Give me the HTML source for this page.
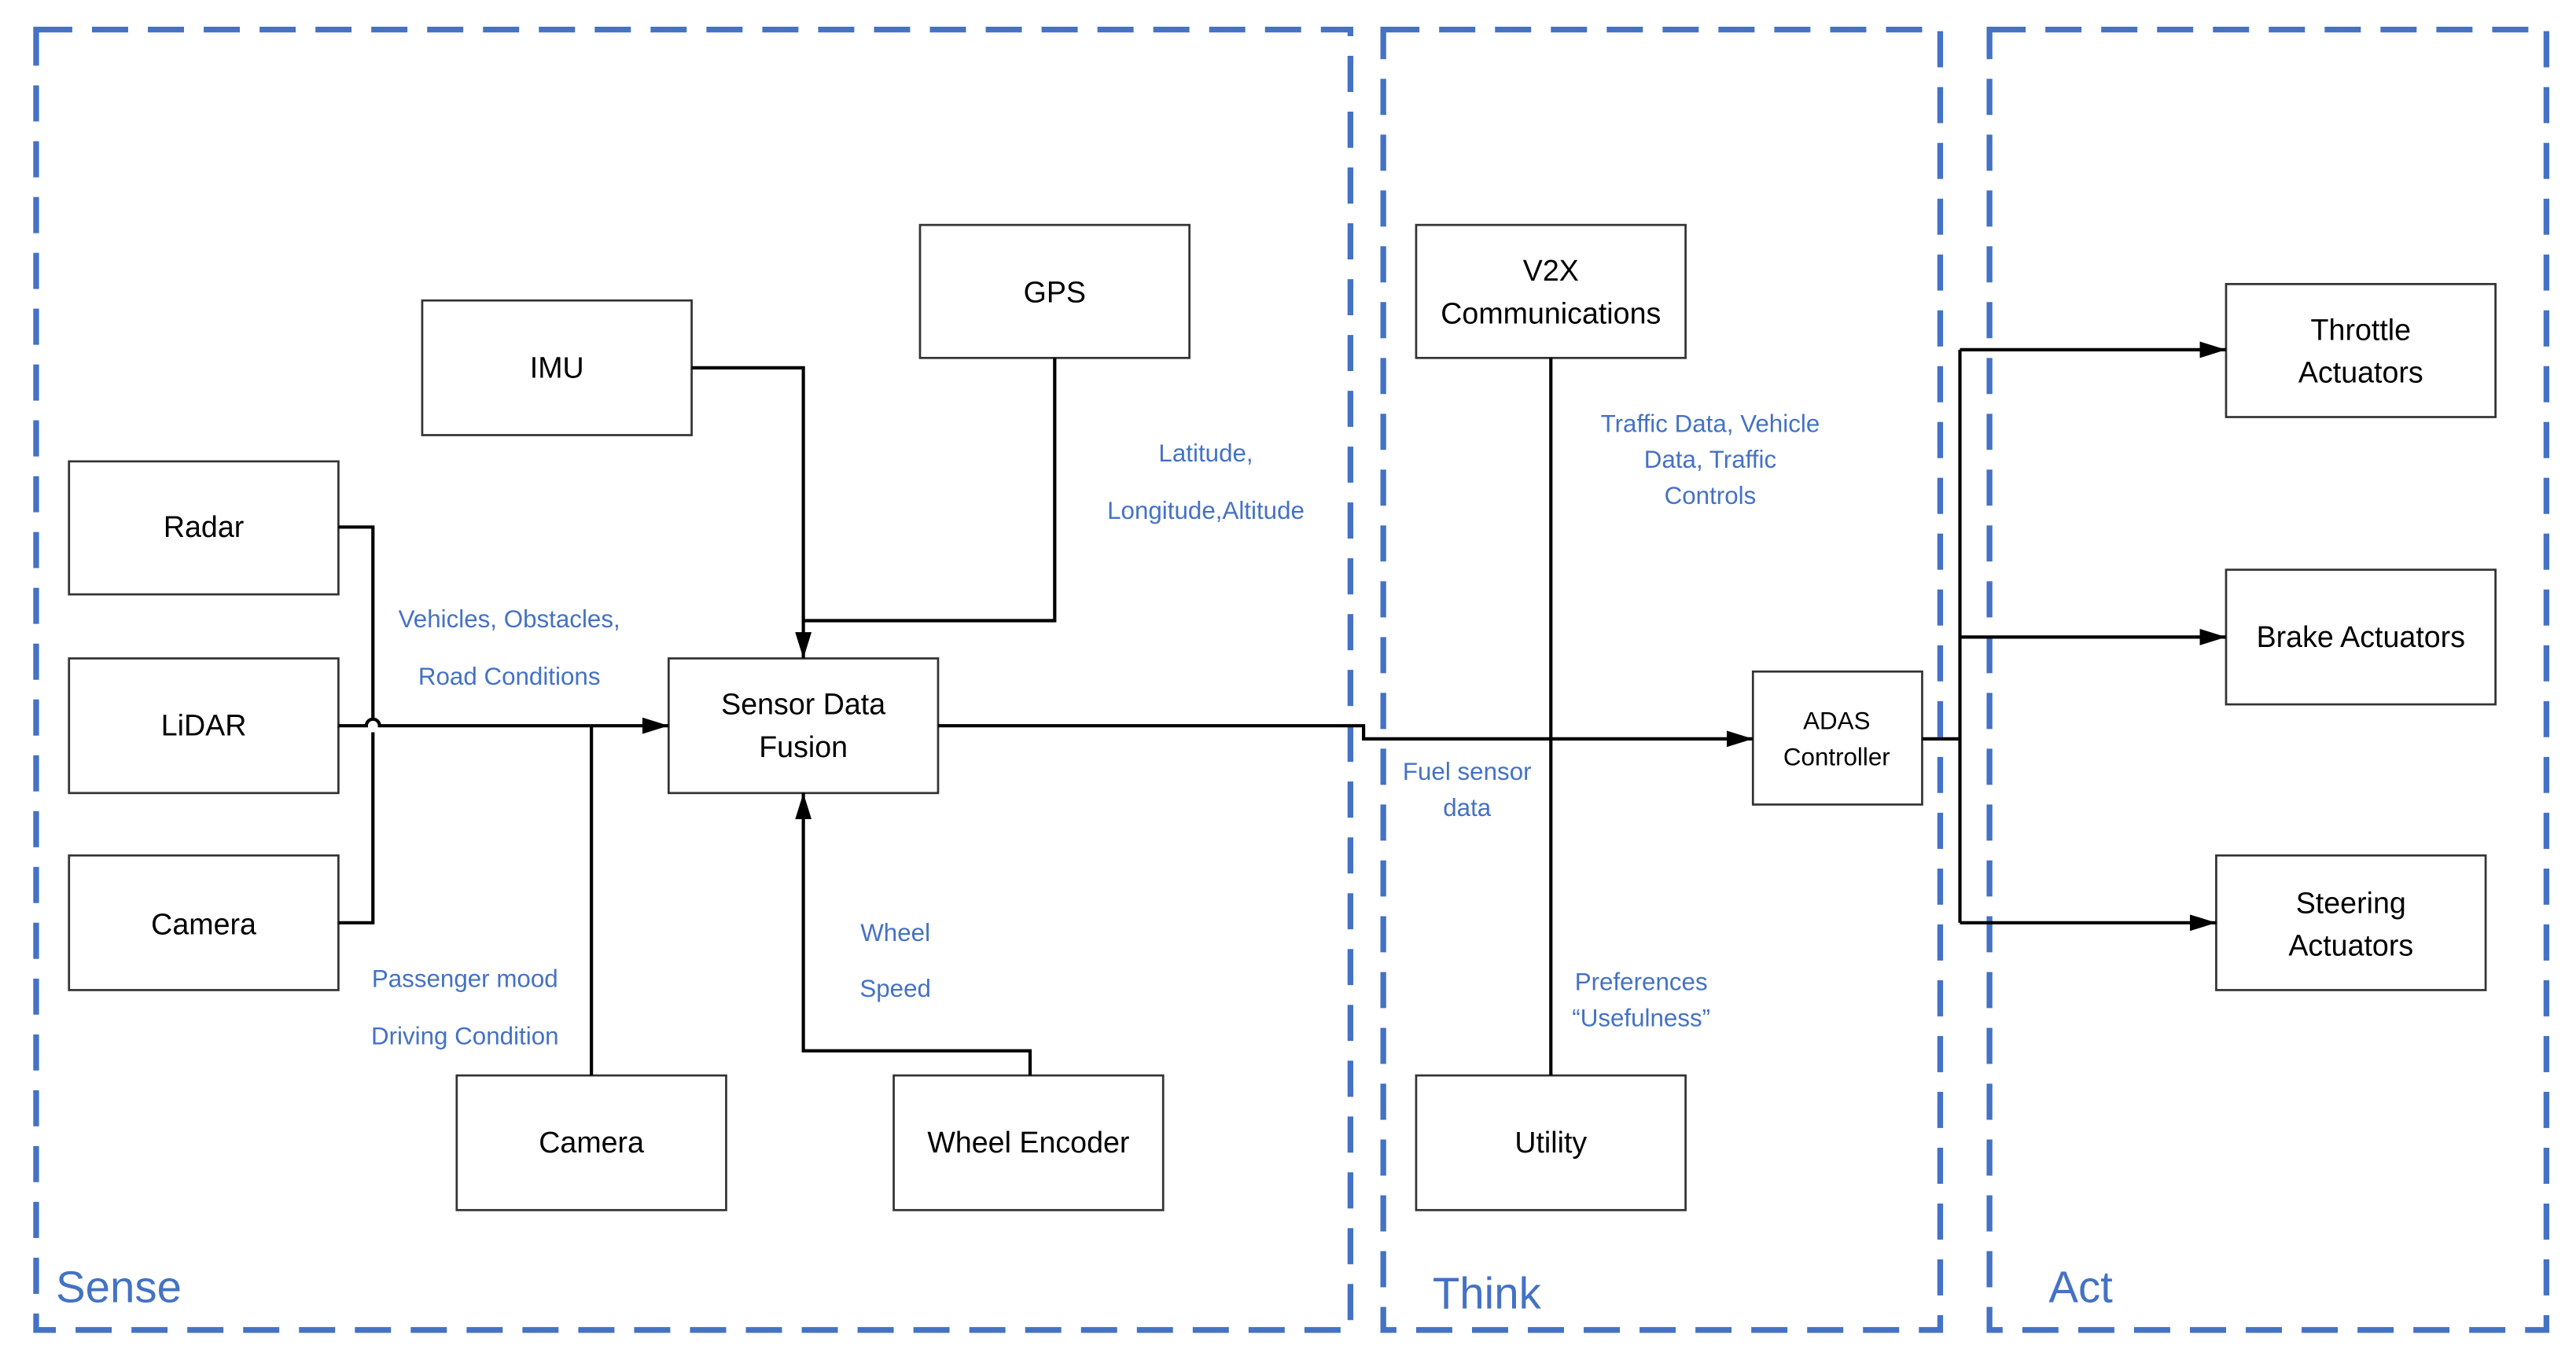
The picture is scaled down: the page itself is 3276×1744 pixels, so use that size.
<!DOCTYPE html>
<html><head><meta charset="utf-8"><style>html,body{margin:0;padding:0;background:#fff}svg{display:block}</style></head>
<body>
<svg width="3276" height="1744" viewBox="0 0 1568 835" preserveAspectRatio="none" xmlns="http://www.w3.org/2000/svg" font-family="Liberation Sans, sans-serif">
<defs><marker id="a" markerWidth="10" markerHeight="8" refX="10" refY="4" orient="auto" markerUnits="userSpaceOnUse"><path d="M0,0 L12,4 L0,8 z" fill="#000"/></marker>
<marker id="b" markerWidth="16" markerHeight="10" refX="16" refY="5" orient="auto" markerUnits="userSpaceOnUse"><path d="M0,0 L16,5 L0,10 z" fill="#000"/></marker></defs>
<g fill="none" stroke="#4472C4" stroke-width="3.5" stroke-dasharray="22,12">
<rect x="22" y="18" width="800" height="792"/>
<rect x="842" y="18" width="339" height="792"/>
<rect x="1211" y="18" width="339" height="792"/>
</g>
<g fill="#4472C4" font-size="27"><text x="34" y="793">Sense</text><text x="872" y="797">Think</text><text x="1247" y="793">Act</text></g>
<g fill="#fff" stroke="#333" stroke-width="1.3">
<rect x="560" y="137" width="164" height="81"/><rect x="257" y="183" width="164" height="82"/>
<rect x="42" y="281" width="164" height="81"/><rect x="42" y="401" width="164" height="82"/>
<rect x="42" y="521" width="164" height="82"/><rect x="407" y="401" width="164" height="82"/>
<rect x="278" y="655" width="164" height="82"/><rect x="544" y="655" width="164" height="82"/>
<rect x="862" y="137" width="164" height="81"/><rect x="862" y="655" width="164" height="82"/>
<rect x="1067" y="409" width="103" height="81"/><rect x="1355" y="173" width="164" height="81"/>
<rect x="1355" y="347" width="164" height="82"/><rect x="1349" y="521" width="164" height="82"/>
</g>
<g fill="none" stroke="#000" stroke-width="2">
<path d="M421,224 H489 V401" marker-end="url(#b)"/>
<path d="M642,218 V378 H489"/>
<path d="M206,321 H227 V438 M227,446 V562 H206"/>
<path d="M206,442 H223 A4,4 0 0 1 231,442 H407" marker-end="url(#b)"/>
<path d="M360,655 V442"/>
<path d="M627,655 V640 H489 V483" marker-end="url(#b)"/>
<path d="M571,442 H830 V450 H1067" marker-end="url(#b)"/>
<path d="M944,218 V655"/>
<path d="M1170,450 H1193 M1193,213 V562"/>
<path d="M1193,213 H1355" marker-end="url(#b)"/>
<path d="M1193,388 H1355" marker-end="url(#b)"/>
<path d="M1193,562 H1349" marker-end="url(#b)"/>
</g>
<g fill="#000" font-size="18" text-anchor="middle">
<text x="642" y="184">GPS</text><text x="339" y="230">IMU</text>
<text x="124" y="327">Radar</text><text x="124" y="448">LiDAR</text><text x="124" y="569">Camera</text>
<text x="489" y="435">Sensor Data</text><text x="489" y="461">Fusion</text>
<text x="360" y="702">Camera</text><text x="626" y="702">Wheel Encoder</text>
<text x="944" y="171">V2X</text><text x="944" y="197">Communications</text>
<text x="944" y="702">Utility</text>
<text x="1118" y="444" font-size="15">ADAS</text><text x="1118" y="466" font-size="15">Controller</text>
<text x="1437" y="207">Throttle</text><text x="1437" y="233">Actuators</text>
<text x="1437" y="394">Brake Actuators</text>
<text x="1431" y="556">Steering</text><text x="1431" y="582">Actuators</text>
</g>
<g fill="#4472C4" font-size="15" text-anchor="middle">
<text x="734" y="281">Latitude,</text><text x="734" y="316">Longitude,Altitude</text>
<text x="310" y="382">Vehicles, Obstacles,</text><text x="310" y="417">Road Conditions</text>
<text x="283" y="601">Passenger mood</text><text x="283" y="636">Driving Condition</text>
<text x="545" y="573">Wheel</text><text x="545" y="607">Speed</text>
<text x="1041" y="263">Traffic Data, Vehicle</text><text x="1041" y="285">Data, Traffic</text><text x="1041" y="307">Controls</text>
<text x="893" y="475">Fuel sensor</text><text x="893" y="497">data</text>
<text x="999" y="603">Preferences</text><text x="999" y="625">“Usefulness”</text>
</g>
</svg>
</body></html>
